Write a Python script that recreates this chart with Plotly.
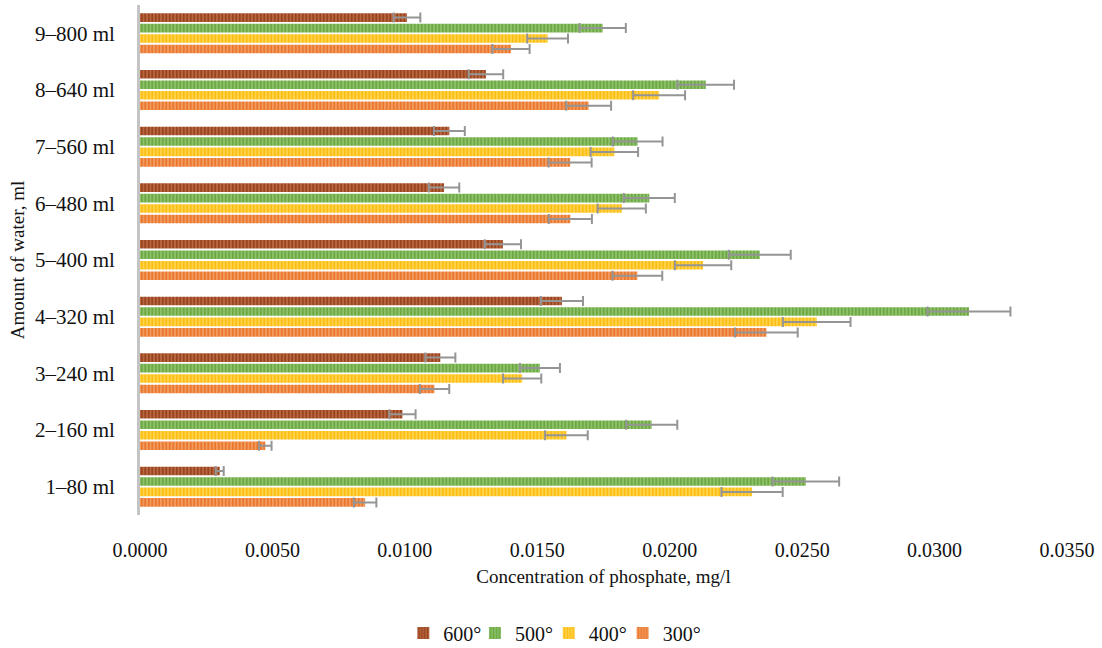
import plotly.graph_objects as go

# Water volume categories (bottom to top on the y axis)
categories = ["1–80 ml", "2–160 ml", "3–240 ml", "4–320 ml", "5–400 ml",
              "6–480 ml", "7–560 ml", "8–640 ml", "9–800 ml"]

# Phosphate concentration, mg/l, per firing temperature
t300 = [0.0085, 0.00473, 0.01112, 0.02365, 0.01878, 0.01625, 0.01624, 0.01694, 0.01401]
t400 = [0.02311, 0.0161, 0.01443, 0.02555, 0.02126, 0.01819, 0.01791, 0.0196, 0.01539]
t500 = [0.02514, 0.01932, 0.0151, 0.0313, 0.0234, 0.01923, 0.01879, 0.02136, 0.01747]
t600 = [0.00301, 0.00991, 0.01134, 0.01593, 0.0137, 0.01148, 0.01168, 0.01306, 0.01008]

# Relative error shown on each bar, percent
error_pct = 5

x_ticks = [0.0, 0.005, 0.01, 0.015, 0.02, 0.025, 0.03, 0.035]

# name, values, light fill, stripe colour, legend id, legend left edge (fraction of width)
series = [
    ("300°", t300, "#F29A5E", "#E9772E", "legend4", 0.565),
    ("400°", t400, "#FFD24D", "#FDBE12", "legend3", 0.498),
    ("500°", t500, "#8DC16A", "#6DA843", "legend2", 0.431),
    ("600°", t600, "#B7663F", "#994420", "legend", 0.366),
]

FONT = "Liberation Serif"

fig = go.Figure()
for name, vals, bg, fg, leg, _ in series:
    fig.add_trace(go.Bar(
        y=categories,
        x=vals,
        name=name,
        orientation="h",
        legend=leg,
        marker=dict(
            color=bg,
            line=dict(width=0),
            pattern=dict(shape="|", bgcolor=bg, fgcolor=fg,
                         size=3.5, solidity=0.5, fillmode="replace"),
        ),
        error_x=dict(type="percent", value=error_pct, symmetric=True,
                     color="#959595", thickness=2, width=5),
    ))

legend_style = dict(
    orientation="h",
    xref="container", xanchor="left",
    yref="container", y=0.023, yanchor="middle",
    font=dict(family=FONT, size=20, color="#111111"),
    itemwidth=30,
    bgcolor="rgba(0,0,0,0)",
)
legends = {leg: dict(legend_style, x=xpos) for _, _, _, _, leg, xpos in series}

fig.update_layout(
    width=1102,
    height=648,
    barmode="group",
    bargap=0.26,
    bargroupgap=0.18,
    plot_bgcolor="white",
    paper_bgcolor="white",
    margin=dict(l=140, r=35, t=5, b=133),
    font=dict(family=FONT, size=20, color="#111111"),
    showlegend=True,
    **legends,
    xaxis=dict(
        range=[0, 0.035],
        tickvals=x_ticks,
        tickformat=".4f",
        showgrid=False,
        zeroline=False,
        showline=False,
        ticks="outside",
        ticklen=17,
        tickcolor="rgba(0,0,0,0)",
        tickfont=dict(family=FONT, size=20),
        title=dict(text="Concentration of phosphate, mg/l",
                   font=dict(family=FONT, size=19), standoff=9),
    ),
    yaxis=dict(
        categoryorder="array",
        categoryarray=categories,
        showgrid=False,
        zeroline=False,
        showline=True,
        linecolor="#C4C4C4",
        linewidth=3,
        ticks="outside",
        ticklen=18,
        tickcolor="rgba(0,0,0,0)",
        tickfont=dict(family=FONT, size=21),
        title=dict(text="Amount of water, ml",
                   font=dict(family=FONT, size=19), standoff=6),
    ),
)

fig.write_html("out.html")
